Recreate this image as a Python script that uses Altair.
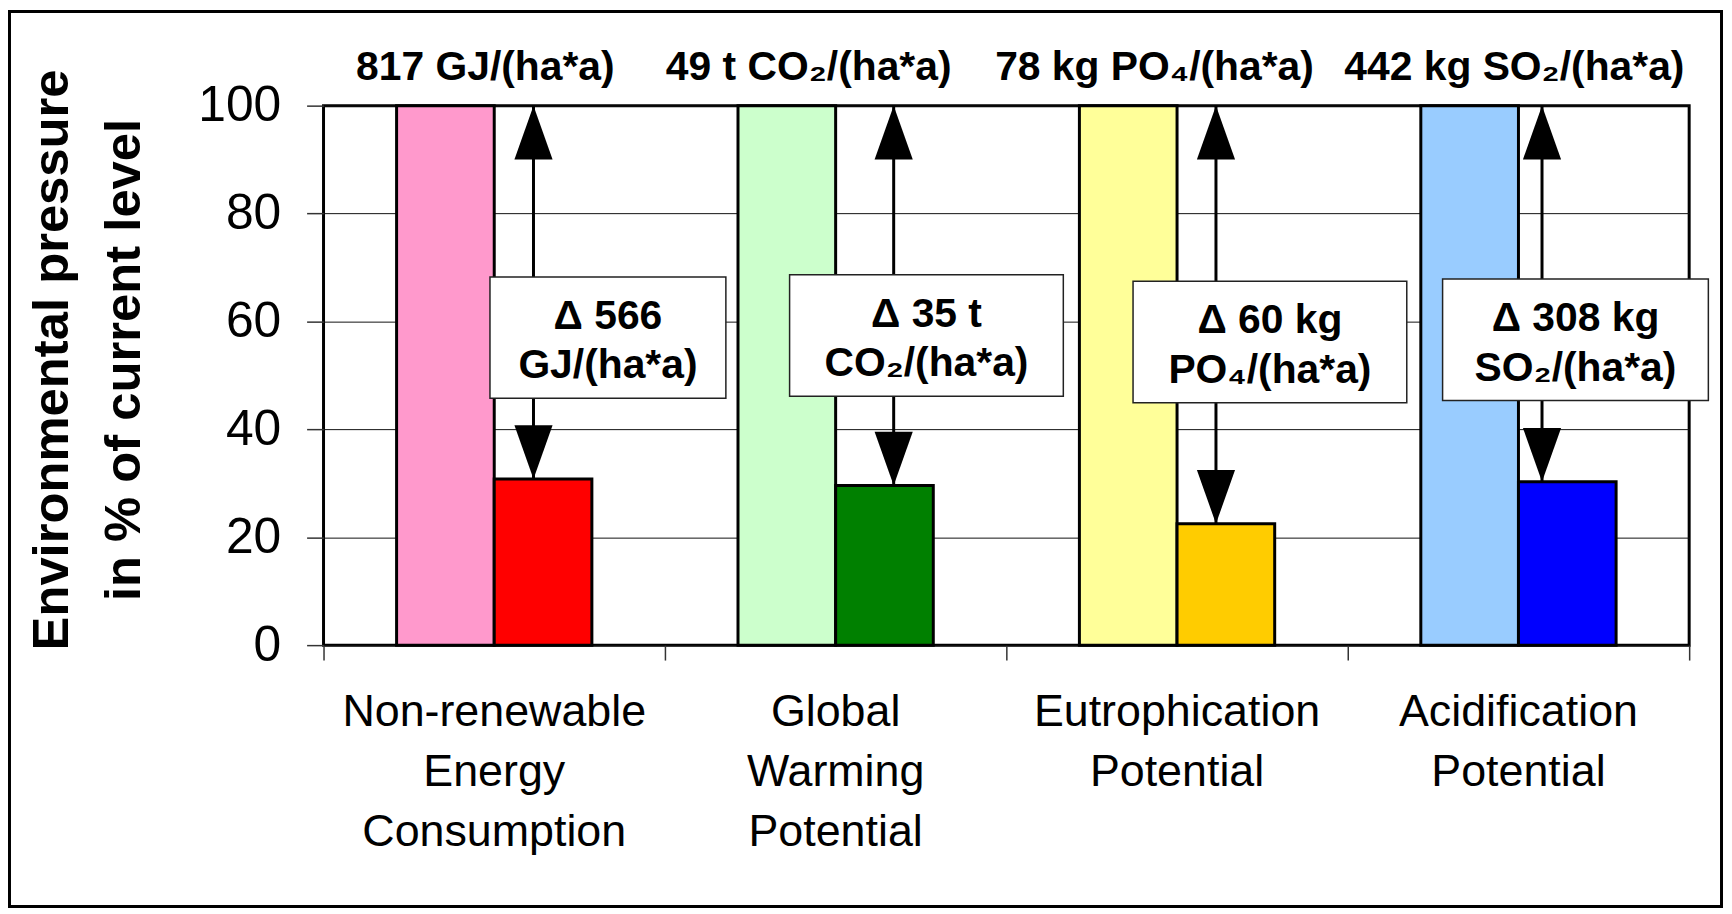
import altair as alt
import pandas as pd

# ---------------- data ----------------
categories = ["Non-renewable Energy Consumption", "Global Warming Potential",
              "Eutrophication Potential", "Acidification Potential"]
category_lines = ["Non-renewable\nEnergy\nConsumption", "Global\nWarming\nPotential",
                  "Eutrophication\nPotential", "Acidification\nPotential"]
current_level = [100, 100, 100, 100]
future_level = [30.8, 29.6, 22.5, 30.3]
current_labels = ["817 GJ/(ha*a)", "49 t CO₂/(ha*a)", "78 kg PO₄/(ha*a)", "442 kg SO₂/(ha*a)"]
delta_labels = ["Δ 566\nGJ/(ha*a)", "Δ 35 t\nCO₂/(ha*a)", "Δ 60 kg\nPO₄/(ha*a)", "Δ 308 kg\nSO₂/(ha*a)"]
current_colors = ["#FF99CC", "#CCFFCC", "#FFFF99", "#99CCFF"]
future_colors = ["#FF0000", "#008000", "#FFCC00", "#0000FF"]
y_ticks = [0, 20, 40, 60, 80, 100]

# ---------------- layout ----------------
PLOT_W, PLOT_H = 1372, 542
PX_X = PLOT_W / 4.0
PX_Y = PLOT_H / 100.0
BAR_W = 0.286
arrow_dx = [0.115, 0.170, 0.114, 0.069]
top_dx = [-0.026, -0.079, -0.066, -0.012]
box_dx = [0.333, 0.266, 0.272, 0.167]
box_y = [57.0, 57.4, 56.2, 56.6]
box_w_px = [237, 275, 275, 267]
BOX_H = 122 / PX_Y
TOP_Y = 100 + 25.7 / PX_Y
CAT_Y = 100 - 587.2 / PX_Y

FONT = "Liberation Sans, Arial, Helvetica, sans-serif"

rows = []
for i, c in enumerate(categories):
    cx = i + 0.5
    rows.append(dict(cat=c, x0=cx - BAR_W, x1=cx, base=0, value=current_level[i], color=current_colors[i], o=0))
    rows.append(dict(cat=c, x0=cx, x1=cx + BAR_W, base=0, value=future_level[i], color=future_colors[i], o=1))
bars_df = pd.DataFrame(rows)

info = []
for i, c in enumerate(categories):
    cx = i + 0.5
    bx = cx + box_dx[i]
    hw = box_w_px[i] / 2 / PX_X
    info.append(dict(cat=c, cx=cx, ax=cx + arrow_dx[i], top=current_level[i], fut=future_level[i],
                     tx=cx + top_dx[i], ty=TOP_Y, total=current_labels[i],
                     bx=bx, bx0=bx - hw, bx1=bx + hw, by=box_y[i],
                     by0=box_y[i] - BOX_H / 2, by1=box_y[i] + BOX_H / 2,
                     delta=delta_labels[i], catlab=category_lines[i], cy=CAT_Y))
info_df = pd.DataFrame(info)

xs = alt.Scale(domain=[0, 4], nice=False, zero=False)
ys = alt.Scale(domain=[0, 100], nice=False, zero=False)
xaxis = alt.Axis(values=[0, 1, 2, 3, 4], labels=False, ticks=True, tickSize=15,
                 tickColor="#333333", tickWidth=1.5, domain=False, grid=False, title=None)
yaxis = alt.Axis(values=y_ticks, tickSize=17, tickColor="#333333", tickWidth=1.5,
                 domain=False, grid=True, gridColor="#111111", gridWidth=1,
                 labelFontSize=50, labelFont=FONT, labelColor="black", labelPadding=26,
                 title=["Environmental pressure", "in % of current level"],
                 titleFontSize=51, titleFont=FONT, titleFontWeight="bold", titleColor="black",
                 titleLineHeight=72, titleAngle=270, titleX=-272, titleY=255,
                 titleAlign="center", titleBaseline="middle")


def X(f):
    return alt.X(f, type="quantitative", scale=xs, axis=xaxis)


def Y(f):
    return alt.Y(f, type="quantitative", scale=ys, axis=yaxis)


bars = alt.Chart(bars_df).mark_rect(stroke="black", strokeWidth=3).encode(
    x=X("x0"), x2="x1", y=Y("base"), y2="value",
    color=alt.Color("color:N", scale=None),
)

arrow_line = alt.Chart(info_df).mark_rule(color="black", strokeWidth=3).encode(
    x=X("ax"), y=Y("fut"), y2="top"
)

UP = "M0,0L0.355,1L-0.355,1Z"
DOWN = "M0,0L0.355,-1L-0.355,-1Z"
head_up = alt.Chart(info_df).mark_point(shape=UP, size=11664, filled=True, color="black",
                                        opacity=1, strokeWidth=0).encode(x=X("ax"), y=Y("top"))
head_down = alt.Chart(info_df).mark_point(shape=DOWN, size=11664, filled=True, color="black",
                                          opacity=1, strokeWidth=0).encode(x=X("ax"), y=Y("fut"))

boxes = alt.Chart(info_df).mark_rect(fill="white", stroke="#222222", strokeWidth=1.5).encode(
    x=X("bx0"), x2="bx1", y=Y("by0"), y2="by1"
)
box_text = alt.Chart(info_df).mark_text(font=FONT, fontSize=41, fontWeight="bold", color="black",
                                        lineBreak="\n", lineHeight=50, baseline="middle",
                                        align="center", dy=-21).encode(
    x=X("bx"), y=Y("by"), text="delta:N"
)

top_text = alt.Chart(info_df).mark_text(font=FONT, fontSize=41, fontWeight="bold", color="black",
                                        baseline="alphabetic", align="center").encode(
    x=X("tx"), y=Y("ty"), text="total:N"
)

cat_text = alt.Chart(info_df).mark_text(font=FONT, fontSize=45, color="black", lineBreak="\n",
                                        lineHeight=60.5, baseline="top", align="center").encode(
    x=X("cx"), y=Y("cy"), text="catlab:N"
)

frame = alt.Chart(pd.DataFrame({"k": [0]})).mark_rect(fillOpacity=0, stroke="black", strokeWidth=3).encode(
    x=alt.value(-315.5), x2=alt.value(1404.5), y=alt.value(-94.5), y2=alt.value(804.5)
)

chart = alt.layer(bars, arrow_line, head_up, head_down, boxes, box_text, top_text, cat_text, frame).properties(
    width=PLOT_W, height=PLOT_H,
    autosize=alt.AutoSizeParams(type="none"),
    padding={"left": 317, "top": 96, "right": 35, "bottom": 264},
    background="white",
).configure_view(stroke="black", strokeWidth=3)

chart.save("out.html", embed_options={"renderer": "svg", "actions": False})
